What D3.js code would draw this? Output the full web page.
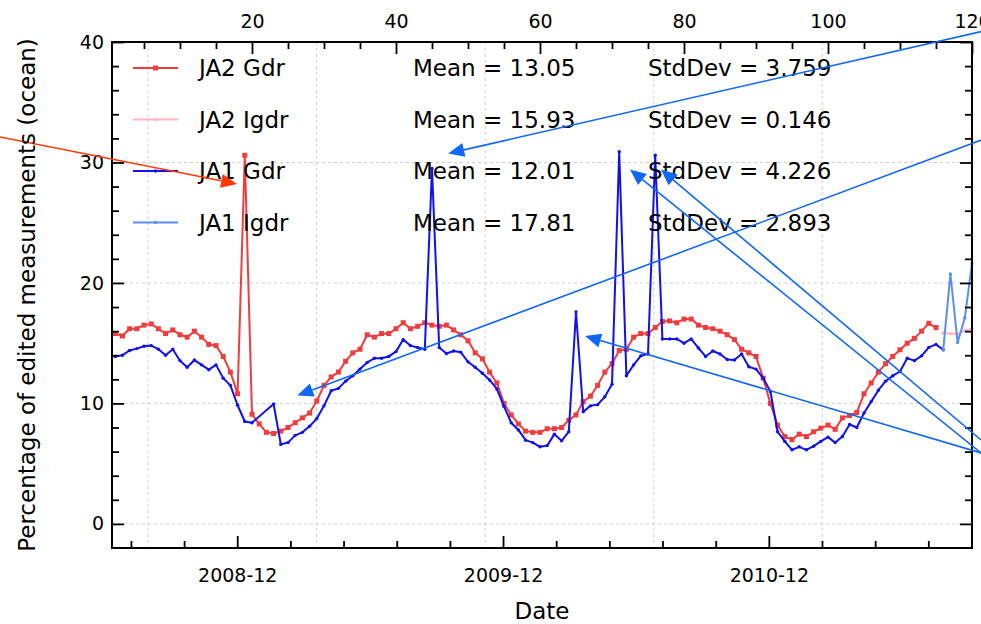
<!DOCTYPE html>
<html>
<head>
<meta charset="utf-8">
<script src="https://d3js.org/d3.v7.min.js"></script>
<style>
  body { margin: 0; background: #fff; }
  svg { font-family: "DejaVu Sans", sans-serif; }
</style>
</head>
<body>
<svg id="drawing_region"></svg>
<script>
// cycle numbers on the top axis, one value per cycle
const ja2_gdr_start = 1;
const ja2_gdr = [
  15.8, 15.6, 16.2, 16.2, 16.5, 16.6, 16.2, 15.8, 16.1, 15.7,
  15.5, 16.0, 15.5, 14.9, 14.8, 13.9, 12.6, 10.8, 30.6, 9.1,
  8.3, 7.6, 7.5, 7.7, 8.0, 8.4, 8.8, 9.2, 10.2, 11.5,
  12.2, 12.6, 13.5, 14.2, 14.5, 15.7, 15.5, 15.8, 15.8, 16.2,
  16.7, 16.2, 16.4, 16.7, 16.5, 16.4, 16.5, 16.1, 15.7, 15.2,
  14.2, 13.7, 12.6, 11.7, 10.0, 9.05, 8.3, 7.7, 7.6, 7.6,
  7.9, 7.9, 8.0, 8.6, 9.05, 10.15, 10.6, 11.5, 12.6, 13.3,
  14.4, 14.5, 15.5, 15.8, 15.8, 16.3, 16.8, 16.85, 16.7, 17.0,
  17.0, 16.5, 16.3, 16.2, 16.0, 15.7, 15.3, 14.5, 14.2, 13.9,
  12.1, 10.0, 8.2, 7.25, 7.0, 7.45, 7.25, 7.65, 7.95, 8.2,
  7.85, 8.8, 9.0, 9.25, 10.8, 11.7, 12.6, 13.3, 13.9, 14.45,
  15.0, 15.4, 16.0, 16.65, 16.3
];
const ja2_igdr_start = 116;
const ja2_igdr = [15.85, 15.8, 15.75, 16.05, 16.2];

const ja1_gdr_start = 1;
const ja1_gdr = [
  13.9, 14.0, 14.4, 14.55, 14.75, 14.8, 14.5, 14.0, 14.5, 13.55,
  13.0, 13.6, 13.2, 12.8, 13.2, 12.1, 11.5, 9.85, 8.5, 8.4,
  null, null, 9.95, 6.6, 6.75, 7.35, 7.6, 8.1, 8.75, 9.8,
  11.05, 11.25, 11.85, 12.3, 12.85, 13.4, 13.75, 13.75, 13.9, 14.3,
  15.3, 14.8, 14.65, 14.5, 29.5, 14.65, 14.15, 14.35, 14.25, 13.45,
  13.0, 12.5, 11.95, 11.2, 9.75, 8.4, 7.8, 6.95, 6.75, 6.4,
  6.5, 7.45, 6.9, 7.65, 17.6, 9.3, 9.8, 9.9, 10.55, 11.6,
  30.9, 12.3, 13.2, 13.95, 14.1, 30.6, 15.35, 15.35, 15.35, 15.0,
  15.35, 14.6, 13.9, 14.35, 14.1, 13.65, 13.6, 14.1, 13.05, 12.85,
  12.1, 11.0, 7.65, 6.85, 6.15, 6.4, 6.15, 6.45, 6.85, 7.2,
  6.75, 7.25, 8.25, 8.0, 9.2, 10.15, 11.1, 11.85, 12.3, 12.65,
  13.75, 13.55, 13.95, 14.65, 14.9, 14.45
];
const ja1_igdr_start = 116;
const ja1_igdr = [14.45, 20.75, 15.05, 17.1, 21.6];

const legend_names = ["JA2 Gdr", "JA2 Igdr", "JA1 Gdr", "JA1 Igdr"];
const legend_means = ["13.05", "15.93", "12.01", "17.81"];
const legend_stds  = ["3.759", "0.146", "4.226", "2.893"];

const y_ticks = [0, 10, 20, 30, 40];
const top_ticks = [20, 40, 60, 80, 100, 120];
const date_ticks = ["2008-12", "2009-12", "2010-12"];

// annotation arrows, [cycle, value] of tail and head
const arrow_from = [[-15.0, 32.12], [123, 41.1], [123, 32.24], [121.25, 5.89], [121.25, 5.89], [121.25, 6.97]];
const arrow_to   = [[17.92, 28.22], [47.26, 30.75], [26.29, 10.65], [66.25, 15.6], [72.5, 29.42], [76.8, 29.42]];

class EditChart {

    constructor( config ) {
        this.config = config;
        this.init();
    }

    init() {
        let self = this;
        const m = self.config.margin;

        self.svg = d3.select( self.config.parent )
            .attr('width', self.config.width)
            .attr('height', self.config.height);

        self.inner_width = self.config.width - m.left - m.right;
        self.inner_height = self.config.height - m.top - m.bottom;

        self.chart = self.svg.append('g')
            .attr('transform', `translate(${m.left}, ${m.top})`);

        self.xscale = d3.scaleLinear()
            .domain( [0.556, 120] )
            .range( [0, self.inner_width] );

        self.tscale = d3.scaleUtc()
            .domain( [new Date(Date.UTC(2008, 5, 12)), new Date(Date.UTC(2011, 8, 6))] )
            .range( [0, self.inner_width] );

        self.yscale = d3.scaleLinear()
            .domain( [-2, 40] )
            .range( [self.inner_height, 0] );

        self.line = d3.line()
            .x( d => self.xscale(d.x) )
            .y( d => self.yscale(d.y) );
    }

    series( start, values ) {
        return values.map( (v, i) => ({x: start + i, y: v}) ).filter( d => d.y !== null );
    }

    render() {
        let self = this;
        const W = self.inner_width, H = self.inner_height;

        // grid
        const grid = self.chart.append('g')
            .attr('stroke', '#cfcfcf')
            .attr('stroke-width', 1)
            .attr('stroke-dasharray', '3,3');
        grid.selectAll('.hg')
            .data( y_ticks.filter(v => v < 40) )
            .enter().append('line')
            .attr('x1', 0).attr('x2', W)
            .attr('y1', d => self.yscale(d)).attr('y2', d => self.yscale(d));
        grid.selectAll('.vg')
            .data( [5.55, 28.95, 52.4, 75.8, 99.2] )
            .enter().append('line')
            .attr('y1', 0).attr('y2', H)
            .attr('x1', d => self.xscale(d)).attr('x2', d => self.xscale(d));

        // series
        const lines = [
            {data: self.series(ja2_gdr_start, ja2_gdr), color: '#f03c3c', mark: 'square'},
            {data: self.series(ja2_igdr_start, ja2_igdr), color: '#ffb3c3', mark: 'dot'},
            {data: self.series(ja1_gdr_start, ja1_gdr), color: '#1010f0', mark: 'dot'},
            {data: self.series(ja1_igdr_start, ja1_igdr), color: '#5b8ef5', mark: 'dot'}
        ];
        self.lines = lines;

        lines.forEach( s => {
            const g = self.chart.append('g');
            g.append('path')
                .attr('d', self.line(s.data))
                .attr('fill', 'none')
                .attr('stroke', s.color)
                .attr('stroke-width', 2)
                .attr('stroke-linejoin', 'round');
            if (s.mark == 'square') {
                g.selectAll('rect').data(s.data).enter().append('rect')
                    .attr('x', d => self.xscale(d.x) - 2.5)
                    .attr('y', d => self.yscale(d.y) - 2.5)
                    .attr('width', 5).attr('height', 5)
                    .attr('fill', s.color);
            } else {
                g.selectAll('circle').data(s.data).enter().append('circle')
                    .attr('cx', d => self.xscale(d.x))
                    .attr('cy', d => self.yscale(d.y))
                    .attr('r', 1.7)
                    .attr('fill', s.color);
            }
        });

        // axes
        const yminor = d3.range(0, 40, 2).filter(v => v % 10 != 0);
        const topminor = d3.range(5, 120, 5).filter(v => v % 20 != 0);
        const dmaj = date_ticks.map( d3.utcParse('%Y-%m') );
        const dmin = [];
        for (let k = -2; k < 20; k++) {
            const d = d3.utcDay.offset(dmaj[0], k * 73);
            if (k % 5 != 0 && d <= self.tscale.domain()[1]) dmin.push(d);
        }

        const addAxis = (axis, tr) => {
            const g = self.chart.append('g')
                .attr('transform', tr)
                .call(axis);
            g.attr('font-family', '"DejaVu Sans", sans-serif')
                .attr('font-size', 19);
            g.select('.domain').remove();
            g.selectAll('.tick line').attr('stroke', '#000').attr('stroke-width', 1.8);
            g.selectAll('.tick text').attr('fill', '#000');
            return g;
        };

        addAxis( d3.axisLeft(self.yscale).tickValues(y_ticks).tickSizeInner(-12).tickSizeOuter(0).tickPadding(8), 'translate(0,0)' );
        addAxis( d3.axisLeft(self.yscale).tickValues(yminor).tickSizeInner(-7).tickSizeOuter(0).tickFormat(''), 'translate(0,0)' );
        addAxis( d3.axisRight(self.yscale).tickValues(y_ticks).tickSizeInner(-12).tickSizeOuter(0).tickFormat(''), `translate(${W},0)` );
        addAxis( d3.axisRight(self.yscale).tickValues(yminor).tickSizeInner(-7).tickSizeOuter(0).tickFormat(''), `translate(${W},0)` );
        addAxis( d3.axisTop(self.xscale).tickValues(top_ticks).tickSizeInner(-12).tickSizeOuter(0).tickPadding(14), 'translate(0,0)' );
        addAxis( d3.axisTop(self.xscale).tickValues(topminor).tickSizeInner(-7).tickSizeOuter(0).tickFormat(''), 'translate(0,0)' );
        addAxis( d3.axisBottom(self.tscale).tickValues(dmaj).tickSizeInner(-12).tickSizeOuter(0).tickPadding(21).tickFormat(d3.utcFormat('%Y-%m')), `translate(0,${H})` );
        addAxis( d3.axisBottom(self.tscale).tickValues(dmin).tickSizeInner(-7).tickSizeOuter(0).tickFormat(''), `translate(0,${H})` );

        // frame
        self.chart.append('rect')
            .attr('width', W).attr('height', H)
            .attr('fill', 'none')
            .attr('stroke', '#000')
            .attr('stroke-width', 2);

        // legend
        const lg = self.chart.append('g').attr('font-size', 23).attr('fill', '#000');
        legend_names.forEach( (name, i) => {
            const y = 26 + 51.5 * i;
            const s = lines[i];
            lg.append('line')
                .attr('x1', 21).attr('x2', 66).attr('y1', y).attr('y2', y)
                .attr('stroke', s.color).attr('stroke-width', 2);
            if (s.mark == 'square') {
                lg.append('rect').attr('x', 41).attr('y', y - 2.5).attr('width', 5).attr('height', 5).attr('fill', s.color);
            } else {
                lg.append('circle').attr('cx', 43.5).attr('cy', y).attr('r', 1.7).attr('fill', s.color);
            }
            lg.append('text').attr('x', 87).attr('y', y).attr('dy', '0.35em').text(name);
            lg.append('text').attr('x', 301).attr('y', y).attr('dy', '0.35em').text('Mean = ' + legend_means[i]);
            lg.append('text').attr('x', 536).attr('y', y).attr('dy', '0.35em').text('StdDev = ' + legend_stds[i]);
        });

        // arrows
        arrow_from.forEach( (f, i) => {
            const t = arrow_to[i];
            const color = i == 0 ? '#ff3a0a' : '#0f67f5';
            const x1 = self.xscale(f[0]), y1 = self.yscale(f[1]);
            const x2 = self.xscale(t[0]), y2 = self.yscale(t[1]);
            const a = Math.atan2(y2 - y1, x2 - x1);
            const len = 16, hw = 7;
            const bx = x2 - len * Math.cos(a), by = y2 - len * Math.sin(a);
            self.chart.append('line')
                .attr('x1', x1).attr('y1', y1).attr('x2', bx).attr('y2', by)
                .attr('stroke', color).attr('stroke-width', 1.6);
            self.chart.append('path')
                .attr('d', `M${x2},${y2}L${bx + hw * Math.sin(a)},${by - hw * Math.cos(a)}L${bx - hw * Math.sin(a)},${by + hw * Math.cos(a)}Z`)
                .attr('fill', color);
        });

        // titles
        self.svg.append('text')
            .attr('transform', `translate(35, ${self.config.margin.top + H / 2}) rotate(-90)`)
            .attr('text-anchor', 'middle')
            .attr('font-size', 23)
            .text('Percentage of edited measurements (ocean)');

        self.svg.append('text')
            .attr('x', self.config.margin.left + W / 2)
            .attr('y', 619)
            .attr('text-anchor', 'middle')
            .attr('font-size', 23)
            .text('Date');
    }
}

const config = {
    parent: '#drawing_region',
    width: 981,
    height: 624,
    margin: {top: 42, right: 9, bottom: 76, left: 112}
};

const chart = new EditChart( config );
chart.render();
</script>
</body>
</html>
